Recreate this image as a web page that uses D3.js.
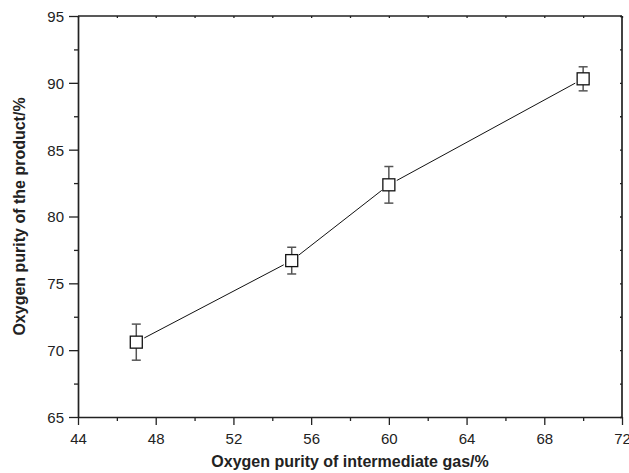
<!DOCTYPE html>
<html>
<head>
<meta charset="utf-8">
<script src="https://cdn.jsdelivr.net/npm/d3@7"></script>
<style>
  html, body { margin: 0; padding: 0; background: #fff; }
  svg { display: block; font-family: "Liberation Sans", Arial, sans-serif; }
</style>
</head>
<body>
<div id="chart"></div>
<script>
// Data
const intermediatePurity = [47, 55, 60, 70];
const productPurity = [70.6, 76.7, 82.37, 90.3];
const productError = [1.35, 1.0, 1.37, 0.9];
const xTicks = [44, 48, 52, 56, 60, 64, 68, 72];
const yTicks = [65, 70, 75, 80, 85, 90, 95];

const width = 629, height = 473;
const margin = { top: 16, right: 7, bottom: 56, left: 78 };
const ink = '#222';

const svg = d3.select('#chart').append('svg')
    .attr('width', width)
    .attr('height', height);

const x = d3.scaleLinear().domain([44, 72])
    .range([margin.left, width - margin.right]);
const y = d3.scaleLinear().domain([65, 95])
    .range([height - margin.bottom, margin.top]);

const xMinor = d3.range(46, 72, 4);
const yMinor = d3.range(67.5, 95, 5);

// Minor ticks (outward on bottom/left, tiny on top/right)
function minorAxis(axisFn, scale, values, size, transform) {
    const g = svg.append('g')
        .attr('transform', transform)
        .call(axisFn(scale).tickValues(values).tickSize(size).tickFormat('').tickSizeOuter(0));
    g.select('.domain').remove();
    g.selectAll('.tick line').attr('stroke', ink).attr('stroke-width', 1.3);
    return g;
}

minorAxis(d3.axisBottom, x, xMinor, 4, `translate(0,${y(65)})`);
minorAxis(d3.axisLeft, y, yMinor, 4, `translate(${x(44)},0)`);
minorAxis(d3.axisBottom, x, xTicks.concat(xMinor), 2, `translate(0,${y(95)})`);
minorAxis(d3.axisLeft, y, yTicks.concat(yMinor), 2, `translate(${x(72)},0)`);

// Major axes
const xAxis = svg.append('g')
    .attr('transform', `translate(0,${y(65)})`)
    .call(d3.axisBottom(x).tickValues(xTicks).tickSize(8).tickSizeOuter(0).tickPadding(8));
const yAxis = svg.append('g')
    .attr('transform', `translate(${x(44)},0)`)
    .call(d3.axisLeft(y).tickValues(yTicks).tickSize(9).tickSizeOuter(0).tickPadding(5));

[xAxis, yAxis].forEach(g => {
    g.select('.domain').attr('stroke', ink).attr('stroke-width', 1.7);
    g.selectAll('.tick line').attr('stroke', ink).attr('stroke-width', 1.3);
    g.selectAll('.tick text')
        .attr('fill', ink)
        .style('font-size', '15px')
        .style('font-family', '"Liberation Sans", Arial, sans-serif');
});
yAxis.selectAll('.tick text').attr('dy', '0.36em');

// Top and right frame lines
svg.append('line')
    .attr('x1', x(44)).attr('x2', x(72))
    .attr('y1', y(95)).attr('y2', y(95))
    .attr('stroke', ink).attr('stroke-width', 1.7);
svg.append('line')
    .attr('x1', x(72)).attr('x2', x(72))
    .attr('y1', y(95)).attr('y2', y(65))
    .attr('stroke', ink).attr('stroke-width', 1.7);

// Axis titles
svg.append('text')
    .attr('x', (x(44) + x(72)) / 2)
    .attr('y', 467)
    .attr('text-anchor', 'middle')
    .attr('fill', ink)
    .style('font-size', '16px')
    .style('font-weight', 'bold')
    .text('Oxygen purity of intermediate gas/%');

svg.append('text')
    .attr('transform', `translate(25,${(y(65) + y(95)) / 2}) rotate(-90)`)
    .attr('text-anchor', 'middle')
    .attr('fill', ink)
    .style('font-size', '16px')
    .style('font-weight', 'bold')
    .text('Oxygen purity of the product/%');

// Points
const points = intermediatePurity.map((v, i) => ({
    x: v, y: productPurity[i], err: productError[i]
}));

// Connecting line, trimmed short of the markers
const gap = 9;
d3.pairs(points).forEach(([a, b]) => {
    const x1 = x(a.x), y1 = y(a.y), x2 = x(b.x), y2 = y(b.y);
    const len = Math.hypot(x2 - x1, y2 - y1);
    const ux = (x2 - x1) / len, uy = (y2 - y1) / len;
    svg.append('line')
        .attr('x1', x1 + ux * gap).attr('y1', y1 + uy * gap)
        .attr('x2', x2 - ux * gap).attr('y2', y2 - uy * gap)
        .attr('stroke', '#111')
        .attr('stroke-width', 1);
});

// Error bars
const capHalf = 4.5;
const eb = svg.append('g').attr('stroke', '#555').attr('stroke-width', 1.5);
eb.selectAll('.whisker').data(points).enter().append('line')
    .attr('x1', d => x(d.x)).attr('x2', d => x(d.x))
    .attr('y1', d => y(d.y + d.err)).attr('y2', d => y(d.y - d.err));
eb.selectAll('.capTop').data(points).enter().append('line')
    .attr('x1', d => x(d.x) - capHalf).attr('x2', d => x(d.x) + capHalf)
    .attr('y1', d => y(d.y + d.err)).attr('y2', d => y(d.y + d.err));
eb.selectAll('.capBottom').data(points).enter().append('line')
    .attr('x1', d => x(d.x) - capHalf).attr('x2', d => x(d.x) + capHalf)
    .attr('y1', d => y(d.y - d.err)).attr('y2', d => y(d.y - d.err));

// Square markers
const box = 12;
svg.selectAll('.marker').data(points).enter().append('rect')
    .attr('class', 'marker')
    .attr('x', d => x(d.x) - box / 2)
    .attr('y', d => y(d.y) - box / 2)
    .attr('width', box)
    .attr('height', box)
    .attr('fill', '#fff')
    .attr('stroke', '#111')
    .attr('stroke-width', 1.3);
</script>
</body>
</html>
